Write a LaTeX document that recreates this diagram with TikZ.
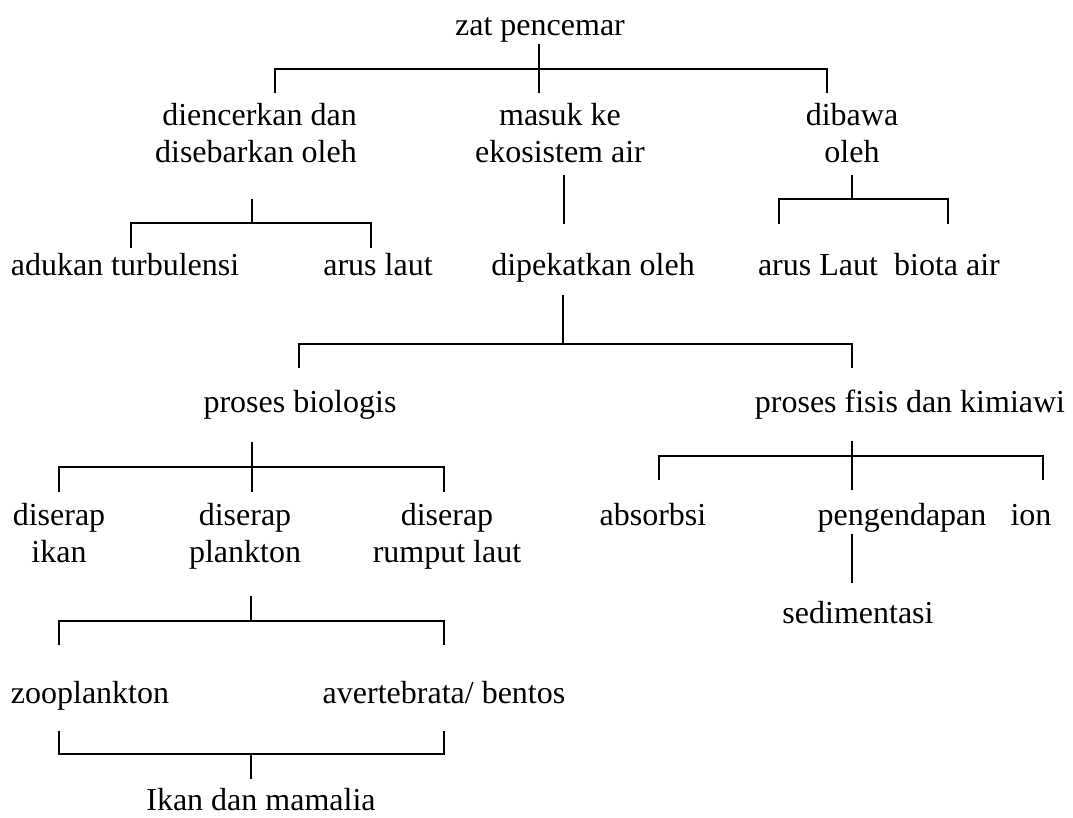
\documentclass[tikz,border=0pt]{standalone}
\usepackage{fontspec}
\setmainfont{Liberation Serif}
\begin{document}
\begin{tikzpicture}[x=1pt,y=-1pt,
  txt/.style={font=\fontsize{32}{37}\selectfont, inner sep=0pt, anchor=base},
  conn/.style={line width=1.5pt, line cap=rect, line join=miter}]
\useasboundingbox[fill=white] (0,0) rectangle (1073,817);
% nodes
\node[txt] (zat) at (540,35) {zat pencemar};
\node[txt, align=right] (dil) at (256,162) {diencerkan dan\\disebarkan oleh};
\node[txt, align=center] (mas) at (560,162) {masuk ke\\ekosistem air};
\node[txt, align=center] (dib) at (852,162) {dibawa\\oleh};
\node[txt] (aduk) at (125,275) {adukan turbulensi};
\node[txt] (arl) at (378,275) {arus laut};
\node[txt] (dip) at (593,275) {dipekatkan oleh};
\node[txt] (arL) at (818,275) {arus Laut};
\node[txt] (bio) at (947,275) {biota air};
\node[txt] (prb) at (300,412) {proses biologis};
\node[txt] (prf) at (910,412) {proses fisis dan kimiawi};
\node[txt, align=center] (dik) at (59,562) {diserap\\ikan};
\node[txt, align=center] (dpl) at (245,562) {diserap\\plankton};
\node[txt, align=center] (dru) at (447,562) {diserap\\rumput laut};
\node[txt] (abs) at (653,525) {absorbsi};
\node[txt] (pen) at (902,525) {pengendapan};
\node[txt] (ion) at (1031,525) {ion};
\node[txt] (sed) at (858,623) {sedimentasi};
\node[txt] (zoo) at (90,703) {zooplankton};
\node[txt] (ave) at (444,703) {avertebrata/ bentos};
\node[txt] (ikm) at (261,810) {Ikan dan mamalia};
% bracket coordinates
\coordinate (zatA) at (539,45);  \coordinate (zatB) at (539,92);
\coordinate (zatL) at (275,92);  \coordinate (zatR) at (827,92);  \coordinate (zatH) at (539,69);
\coordinate (dilA) at (252,200); \coordinate (dilH) at (252,223);
\coordinate (dilL) at (131,247); \coordinate (dilR) at (371,247);
\coordinate (masA) at (564,176); \coordinate (masB) at (564,223);
\coordinate (dibA) at (852,176); \coordinate (dibH) at (852,199);
\coordinate (dibL) at (779,223); \coordinate (dibR) at (948,223);
\coordinate (dipA) at (563,296); \coordinate (dipH) at (563,344);
\coordinate (dipL) at (299,367); \coordinate (dipR) at (852,367);
\coordinate (prbA) at (252,443); \coordinate (prbB) at (252,491); \coordinate (prbH) at (252,467);
\coordinate (prbL) at (59,491);  \coordinate (prbR) at (444,491);
\coordinate (prfA) at (852,442); \coordinate (prfB) at (852,489); \coordinate (prfH) at (852,456);
\coordinate (prfL) at (659,479); \coordinate (prfR) at (1043,479);
\coordinate (penA) at (852,535); \coordinate (penB) at (852,582);
\coordinate (dplA) at (251,597); \coordinate (dplH) at (251,621);
\coordinate (dplL) at (59,644);  \coordinate (dplR) at (444,644);
\coordinate (botL) at (59,732);  \coordinate (botR) at (444,732);
\coordinate (botH) at (251,754); \coordinate (botB) at (251,778);
% connectors
\draw[conn] (zatA) -- (zatB);
\draw[conn] (zatL) -- (zatL |- zatH) -- (zatR |- zatH) -- (zatR);
\draw[conn] (dilA) -- (dilH);
\draw[conn] (dilL) -- (dilL |- dilH) -- (dilR |- dilH) -- (dilR);
\draw[conn] (masA) -- (masB);
\draw[conn] (dibA) -- (dibH);
\draw[conn] (dibL) -- (dibL |- dibH) -- (dibR |- dibH) -- (dibR);
\draw[conn] (dipA) -- (dipH);
\draw[conn] (dipL) -- (dipL |- dipH) -- (dipR |- dipH) -- (dipR);
\draw[conn] (prbA) -- (prbB);
\draw[conn] (prbL) -- (prbL |- prbH) -- (prbR |- prbH) -- (prbR);
\draw[conn] (prfA) -- (prfB);
\draw[conn] (prfL) -- (prfL |- prfH) -- (prfR |- prfH) -- (prfR);
\draw[conn] (penA) -- (penB);
\draw[conn] (dplA) -- (dplH);
\draw[conn] (dplL) -- (dplL |- dplH) -- (dplR |- dplH) -- (dplR);
\draw[conn] (botL) -- (botL |- botH) -- (botR |- botH) -- (botR);
\draw[conn] (botH) -- (botB);
\end{tikzpicture}
\end{document}
